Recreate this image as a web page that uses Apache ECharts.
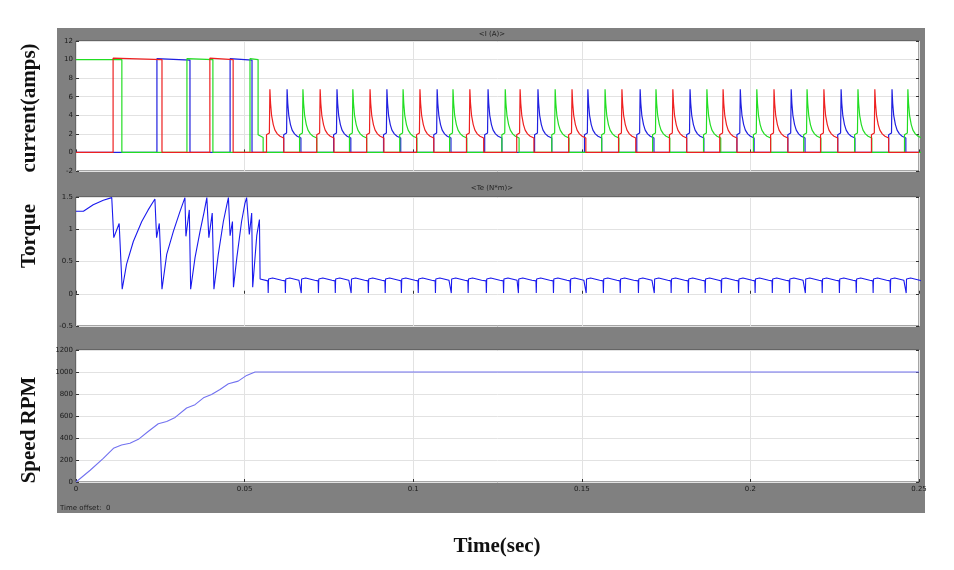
<!DOCTYPE html>
<html>
<head>
<meta charset="utf-8">
<script src="https://cdn.jsdelivr.net/npm/echarts@6/dist/echarts.min.js"></script>
<style>
  html, body { margin: 0; padding: 0; background: #fff; }
  #chart { width: 954px; height: 570px; }
</style>
</head>
<body>
<div id="chart"></div>
<script>
// all times in ms
const redStart = [[0, 0], [11.0, 0], [11.0, 10.15], [25.5, 10.0], [25.5, 0], [39.7, 0], [39.7, 10.15], [46.6, 10.0], [46.6, 0]];
const blueStart = [[0, 0], [24.0, 0], [24.0, 10.1], [33.8, 9.95], [33.8, 0], [45.7, 0], [45.7, 10.1], [52.2, 9.95], [52.2, 0]];
const greenStart = [[0, 10.0], [13.6, 10.0], [13.6, 0], [32.9, 0], [32.9, 10.1], [40.6, 10.0], [40.6, 0], [51.6, 0], [51.6, 10.1], [54.0, 10.0], [54.0, 1.9], [55.5, 1.6], [55.5, 0]];

// peak times of the current pulses after the machine reaches speed
const redPeaks = [57.5, 72.4, 87.2, 102.0, 116.8, 131.7, 147.1, 161.9, 177.0, 191.9, 207.0, 221.8, 236.9];
const bluePeaks = [62.6, 77.4, 92.2, 107.1, 122.2, 137.0, 151.8, 167.3, 182.1, 197.0, 212.1, 226.9, 242.0];
const greenPeaks = [67.3, 82.1, 97.0, 111.8, 127.3, 142.1, 156.9, 172.0, 187.1, 201.9, 216.8, 231.9, 246.7];

// one current pulse, offset from its peak
const pulseDt = [-1.0, -1.0, -0.15, 0, 0.2, 0.5, 1.0, 1.5, 2.2, 3.0, 4.1, 4.1];
const pulseAmp = [0, 1.9, 2.1, 6.8, 5.3, 4.0, 3.0, 2.4, 2.0, 1.75, 1.55, 0];

// torque during acceleration
const torqueStart = [[0, 1.28], [2.2, 1.28], [5.1, 1.38], [8.1, 1.45], [10.6, 1.49], [11.1, 1.49], [11.2, 0.87], [12.8, 1.09],
  [13.7, 0.07], [15.0, 0.46], [17.0, 0.81], [19.5, 1.12], [21.4, 1.30], [23.4, 1.47], [23.8, 1.49], [23.9, 0.87], [24.7, 1.09],
  [25.5, 0.07], [26.9, 0.61], [28.9, 0.97], [30.8, 1.27], [32.3, 1.49], [32.6, 0.89], [33.6, 1.30],
  [34.0, 0.07], [35.3, 0.56], [36.8, 0.97], [38.0, 1.27], [38.8, 1.49], [39.4, 0.87], [40.4, 1.25],
  [40.9, 0.07], [42.2, 0.61], [43.7, 1.12], [44.7, 1.37], [45.2, 1.49], [45.7, 0.90], [46.4, 1.12],
  [46.7, 0.10], [47.7, 0.56], [49.1, 1.12], [50.1, 1.40], [50.6, 1.49], [51.4, 0.92], [52.1, 1.25],
  [52.4, 0.10], [53.6, 0.90], [54.4, 1.15], [54.6, 0.23]];
// torque ripple around each current peak in steady state
const rippleDt = [-0.6, -0.5, -0.4, 0, 0.8, 2.0, 3.5, 3.9];
const rippleVal = [0.20, 0.01, 0.23, 0.26, 0.245, 0.23, 0.21, 0.20];

// speed in rpm
const speedPts = [[0, 0], [4.2, 107], [8.1, 214], [11.1, 306], [13.5, 336], [16.0, 352], [18.5, 388], [21.4, 459],
  [24.4, 529], [26.9, 550], [29.4, 587], [32.8, 673], [35.3, 703], [37.8, 765], [40.2, 795], [42.7, 841],
  [45.2, 893], [48.1, 917], [50.6, 969], [53.1, 1000], [54.6, 1000], [250, 1000]];

const xTickLabels = ['0', '0.05', '0.1', '0.15', '0.2', '0.25'];

function phaseSeries(start, peaks) {
  const pts = start.map(p => [p[0] / 1000, p[1]]);
  peaks.forEach(tp => {
    pulseDt.forEach((d, i) => pts.push([(tp + d) / 1000, pulseAmp[i]]));
  });
  pts.push([0.25, 0]);
  return pts;
}

function torqueSeries() {
  const pts = torqueStart.map(p => [p[0] / 1000, p[1]]);
  const all = redPeaks.concat(bluePeaks, greenPeaks).sort((a, b) => a - b);
  all.forEach(tp => {
    rippleDt.forEach((d, i) => pts.push([(tp + d) / 1000, rippleVal[i]]));
  });
  pts.push([0.25, 0.2]);
  return pts;
}

const grids = [
  { left: 76, top: 41, width: 843, height: 130 },
  { left: 76, top: 197, width: 843, height: 129 },
  { left: 76, top: 350, width: 843, height: 132 }
].map(g => Object.assign(g, { show: true, backgroundColor: '#fff', borderColor: '#4a4a4a', borderWidth: 1 }));

const tickStyle = { show: true, inside: true, length: 3, lineStyle: { color: '#333' } };
const splitStyle = { show: true, lineStyle: { color: '#e2e2e2', width: 1 } };

function xAxis(idx, labels) {
  return {
    type: 'value', gridIndex: idx, min: 0, max: 0.25, interval: 0.05,
    axisLine: { show: false }, axisTick: tickStyle, splitLine: splitStyle,
    axisLabel: {
      show: labels, fontSize: 7, color: '#1a1a1a', margin: 4, fontFamily: 'DejaVu Sans',
      formatter: v => xTickLabels[Math.round(v / 0.05)]
    }
  };
}
function yAxis(idx, min, max, interval) {
  return {
    type: 'value', gridIndex: idx, min: min, max: max, interval: interval,
    axisLine: { show: false }, axisTick: tickStyle, splitLine: splitStyle,
    axisLabel: { fontSize: 7, color: '#1a1a1a', margin: 3, fontFamily: 'DejaVu Sans', formatter: v => String(v) }
  };
}
function yAxisRight(idx, min, max, interval) {
  return {
    type: 'value', gridIndex: idx, position: 'right', min: min, max: max, interval: interval,
    axisLine: { show: false }, axisTick: tickStyle, splitLine: { show: false }, axisLabel: { show: false }
  };
}

const thin = (color, w) => ({
  type: 'line', showSymbol: false, symbol: 'none', animation: false,
  lineStyle: { color: color, width: w }, itemStyle: { color: color }
});

const chart = echarts.init(document.getElementById('chart'), null, { renderer: 'canvas' });
chart.setOption({
  animation: false,
  backgroundColor: '#fff',
  grid: grids,
  xAxis: [xAxis(0, false), xAxis(1, false), xAxis(2, true)],
  yAxis: [yAxis(0, -2, 12, 2), yAxis(1, -0.5, 1.5, 0.5), yAxis(2, 0, 1200, 200),
    yAxisRight(0, -2, 12, 2), yAxisRight(1, -0.5, 1.5, 0.5), yAxisRight(2, 0, 1200, 200)],
  graphic: [
    { type: 'rect', z: -1, shape: { x: 57, y: 28, width: 868, height: 485 }, style: { fill: '#808080' } },
    { type: 'text', x: 492, y: 34, style: { text: '<I (A)>', font: '7px DejaVu Sans', fill: '#222', textAlign: 'center', textVerticalAlign: 'middle' } },
    { type: 'text', x: 492, y: 188, style: { text: '<Te (N*m)>', font: '7px DejaVu Sans', fill: '#222', textAlign: 'center', textVerticalAlign: 'middle' } },
    { type: 'text', x: 60, y: 508, style: { text: 'Time offset:  0', font: '7px DejaVu Sans', fill: '#222', textAlign: 'left', textVerticalAlign: 'middle' } },
    { type: 'text', x: 30, y: 108, rotation: Math.PI / 2, style: { text: 'current(amps)', font: 'bold 21px "Liberation Serif"', fill: '#111', textAlign: 'center', textVerticalAlign: 'middle' } },
    { type: 'text', x: 30, y: 236, rotation: Math.PI / 2, style: { text: 'Torque', font: 'bold 21px "Liberation Serif"', fill: '#111', textAlign: 'center', textVerticalAlign: 'middle' } },
    { type: 'text', x: 30, y: 430, rotation: Math.PI / 2, style: { text: 'Speed RPM', font: 'bold 21px "Liberation Serif"', fill: '#111', textAlign: 'center', textVerticalAlign: 'middle' } },
    { type: 'text', x: 497, y: 547, style: { text: 'Time(sec)', font: 'bold 21px "Liberation Serif"', fill: '#111', textAlign: 'center', textVerticalAlign: 'middle' } }
  ],
  series: [
    Object.assign(thin('#2020e0', 1.2), { name: 'ib', xAxisIndex: 0, yAxisIndex: 0, data: phaseSeries(blueStart, bluePeaks) }),
    Object.assign(thin('#22dd22', 1.2), { name: 'ic', xAxisIndex: 0, yAxisIndex: 0, data: phaseSeries(greenStart, greenPeaks) }),
    Object.assign(thin('#ee2020', 1.2), { name: 'ia', xAxisIndex: 0, yAxisIndex: 0, data: phaseSeries(redStart, redPeaks) }),
    Object.assign(thin('#1a1aee', 1.1), { name: 'Te', xAxisIndex: 1, yAxisIndex: 1, data: torqueSeries() }),
    Object.assign(thin('#7272f0', 1.1), { name: 'speed', xAxisIndex: 2, yAxisIndex: 2, data: speedPts.map(p => [p[0] / 1000, p[1]]) })
  ]
});
</script>
</body>
</html>
